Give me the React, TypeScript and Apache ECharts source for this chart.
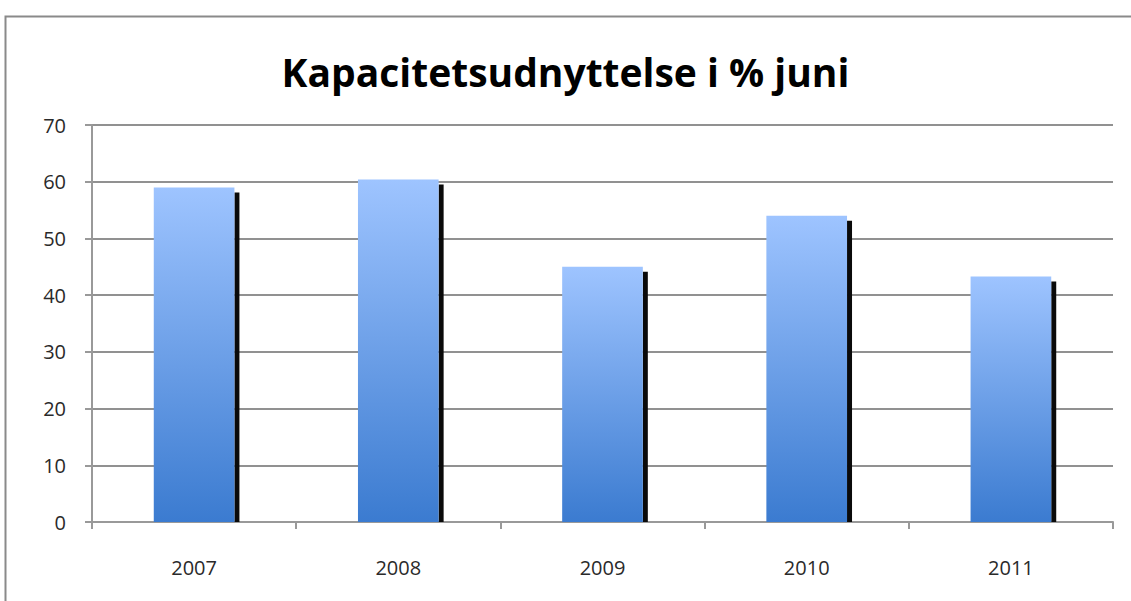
import React, { useEffect, useRef } from "react";
import * as echarts from "echarts";

const TITLE = "Kapacitetsudnyttelse i % juni";
const categories = ["2007", "2008", "2009", "2010", "2011"];
const values = [59, 60.4, 45, 54, 43.3];
const yTicks = [0, 10, 20, 30, 40, 50, 60, 70];

export default function App() {
  const ref = useRef<HTMLDivElement>(null);
  useEffect(() => {
    if (!ref.current) return;
    const chart = echarts.init(ref.current, null, { renderer: "svg" });
    const barFrac = 0.395;
    chart.setOption({
      animation: false,
      backgroundColor: "#ffffff",
      title: {
        text: TITLE,
        left: "center",
        top: 47,
        textStyle: {
          fontFamily: "Open Sans",
          fontWeight: "bold",
          fontSize: 39,
          color: "#000000",
        },
      },
      graphic: [
        {
          type: "rect",
          shape: { x: 5.5, y: 16.5, width: 1200, height: 700 },
          style: { fill: "none", stroke: "#8a8a8a", lineWidth: 2 },
          z: -1,
        },
      ],
      grid: { left: 92, right: 18, top: 125, bottom: 79 },
      xAxis: {
        type: "category",
        data: categories,
        boundaryGap: true,
        axisLine: { lineStyle: { color: "#999999", width: 2 } },
        axisTick: { show: true, length: 7, lineStyle: { color: "#999999", width: 2 } },
        axisLabel: { color: "#2a2a2a", fontSize: 20, fontFamily: "Open Sans", margin: 35 },
        splitLine: { show: false },
      },
      yAxis: {
        type: "value",
        min: yTicks[0],
        max: yTicks[yTicks.length - 1],
        interval: 10,
        axisLine: { show: true, lineStyle: { color: "#999999", width: 2 } },
        axisTick: { show: true, length: 7, lineStyle: { color: "#999999", width: 2 } },
        axisLabel: { color: "#2a2a2a", fontSize: 20, fontFamily: "Open Sans", margin: 26 },
        splitLine: { show: true, lineStyle: { color: "#919191", width: 2 } },
      },
      series: [
        {
          type: "custom",
          z: 1,
          data: values.map((v, i) => [i, v]),
          renderItem: (params: any, api: any) => {
            const idx = api.value(0);
            const v = api.value(1);
            const top = api.coord([idx, v]);
            const bottom = api.coord([idx, 0]);
            const w = api.size([1, 0])[0] * barFrac;
            const x0 = top[0] - w / 2;
            return {
              type: "group",
              children: [
                {
                  type: "rect",
                  shape: { x: x0 + w, y: top[1] + 5, width: 5, height: bottom[1] - top[1] - 5 },
                  style: { fill: "#0a0a0a" },
                },
                {
                  type: "rect",
                  shape: { x: x0, y: top[1], width: w, height: bottom[1] - top[1] },
                  style: {
                    fill: new echarts.graphic.LinearGradient(0, 0, 0, 1, [
                      { offset: 0, color: "#9ec4ff" },
                      { offset: 1, color: "#3b7bd0" },
                    ]),
                  },
                },
              ],
            };
          },
        },
      ],
    });
    return () => chart.dispose();
  }, []);
  return (
    <div
      ref={ref}
      style={{ position: "fixed", left: 0, top: 0, width: 1131, height: 601, background: "#fff" }}
    />
  );
}
